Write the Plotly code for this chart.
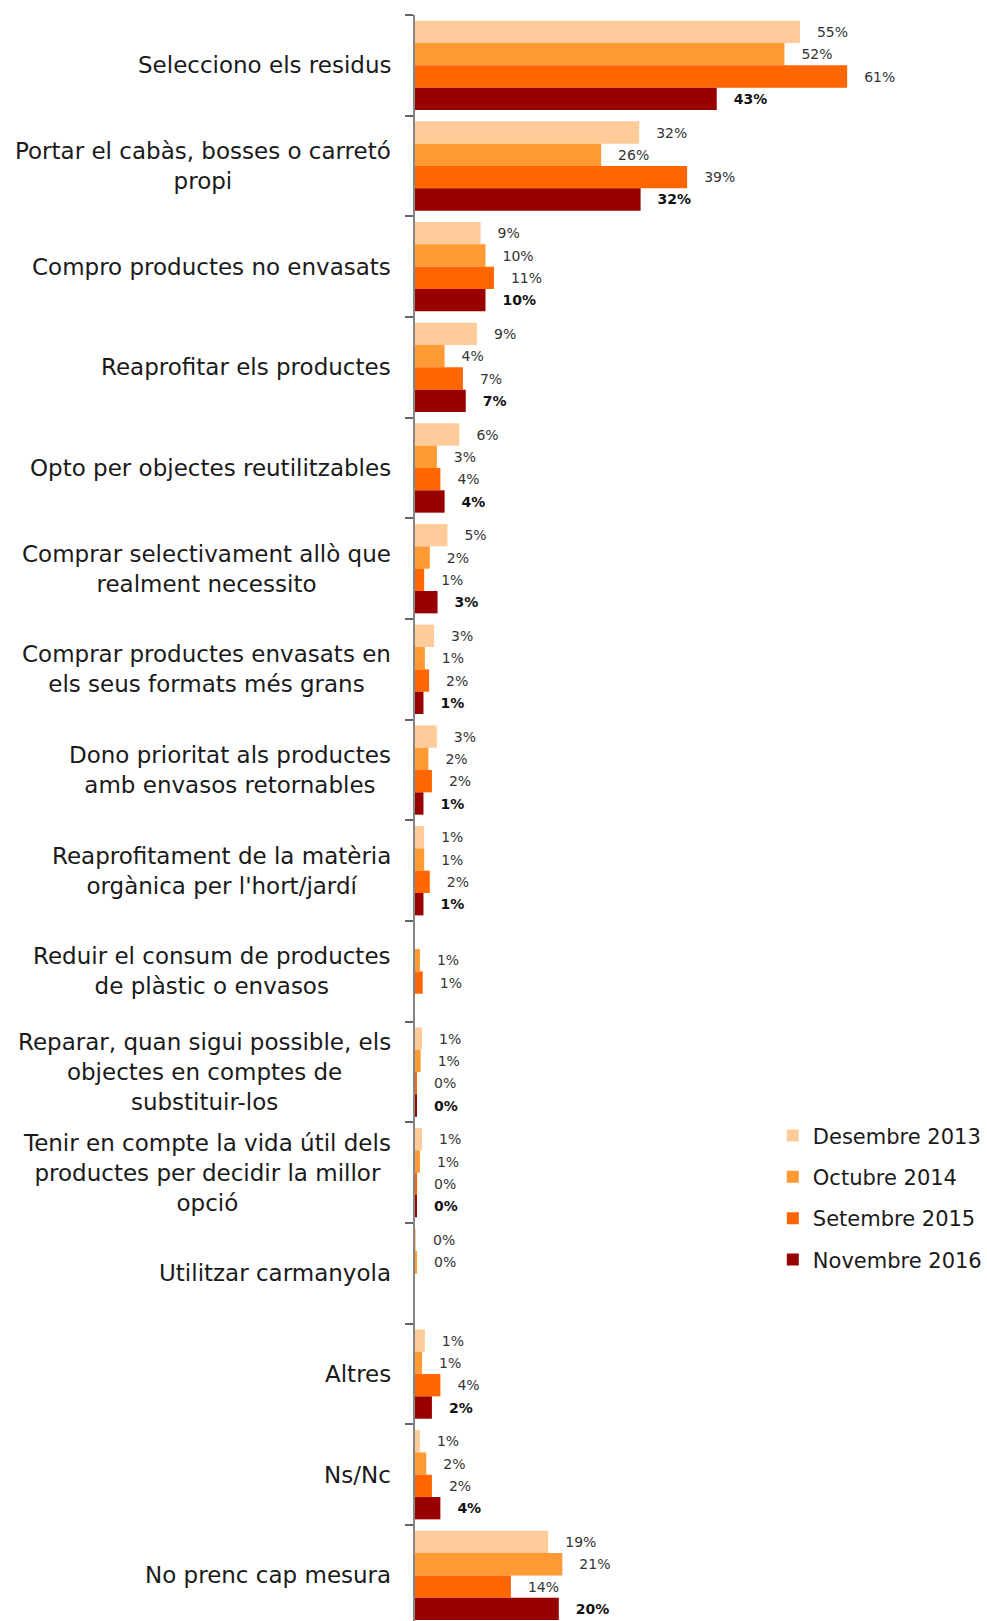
import plotly.graph_objects as go

# Survey answers (one row per measure), labels wrapped as printed
categories = [
    "Selecciono els residus",
    "Portar el cabàs, bosses o carretó\npropi",
    "Compro productes no envasats",
    "Reaprofitar els productes",
    "Opto per objectes reutilitzables",
    "Comprar selectivament allò que\nrealment necessito",
    "Comprar productes envasats en\nels seus formats més grans",
    "Dono prioritat als productes\namb envasos retornables",
    "Reaprofitament de la matèria\norgànica per l'hort/jardí",
    "Reduir el consum de productes\nde plàstic o envasos",
    "Reparar, quan sigui possible, els\nobjectes en comptes de\nsubstituir-los",
    "Tenir en compte la vida útil dels\nproductes per decidir la millor\nopció",
    "Utilitzar carmanyola",
    "Altres",
    "Ns/Nc",
    "No prenc cap mesura",
]

series_names = ["Desembre 2013", "Octubre 2014", "Setembre 2015", "Novembre 2016"]

desembre_2013 = [54.6, 31.8, 9.3, 8.8, 6.3, 4.6, 2.7, 3.1, 1.3, None, 1.0, 1.0, 0.04, 1.4, 0.7, 18.9]
octubre_2014 = [52.4, 26.4, 10.0, 4.2, 3.1, 2.1, 1.4, 1.9, 1.3, 0.7, 0.8, 0.7, 0.2, 1.0, 1.6, 20.9]
setembre_2015 = [61.3, 38.6, 11.2, 6.8, 3.6, 1.3, 2.0, 2.4, 2.1, 1.1, 0.2, 0.3, None, 3.6, 2.4, 13.6]
novembre_2016 = [42.8, 32.0, 10.0, 7.2, 4.2, 3.2, 1.2, 1.2, 1.2, None, 0.2, 0.2, None, 2.4, 3.6, 20.4]

series_values = [desembre_2013, octubre_2014, setembre_2015, novembre_2016]
colors = ["#FFCC99", "#FF9933", "#FF6600", "#990000"]
weights = ["normal", "normal", "normal", "bold"]

FONT = "DejaVu Sans"
keys = [c.replace("\n", " ") for c in categories]


def pct_labels(vals):
    # rounded percentage shown just past the end of each bar; no label where there is no answer
    return ["" if v is None else "\u2002\u2002{:.0f}%".format(v) for v in vals]


fig = go.Figure()
for name, vals, col, wt in zip(series_names, series_values, colors, weights):
    fig.add_trace(go.Bar(
        name=name,
        legendgroup=name,
        y=keys,
        x=vals,
        orientation="h",
        marker=dict(color=col, line=dict(width=0)),
        text=pct_labels(vals),
        texttemplate="%{text}",
        textposition="outside",
        constraintext="none",
        textfont=dict(family=FONT, size=14, color="#111111" if wt == "bold" else "#333333", weight=wt),
        hovertemplate="%{y}: %{x:.1f}%<extra>" + name + "</extra>",
    ))

# Category labels, centred line by line, to the left of the axis
for cat, key in zip(categories, keys):
    fig.add_annotation(
        xref="x", yref="y", x=0, y=key,
        text=cat.replace("\n", "<br>"),
        showarrow=False, xanchor="right", yanchor="middle",
        align="center", xshift=-22,
        font=dict(family=FONT, size=23, color="#1a1a1a"),
    )

px_per_pct = 7.05
plot_w = 987 - 415
fig.update_layout(
    width=987, height=1621,
    margin=dict(l=415, r=0, t=15, b=0, autoexpand=False),
    paper_bgcolor="white", plot_bgcolor="white",
    barmode="group", bargap=0.113, bargroupgap=0,
    showlegend=True,
    legend=dict(
        xref="container", yref="container",
        x=0.783, xanchor="left", y=0.261, yanchor="middle",
        font=dict(family=FONT, size=21, color="#1a1a1a"),
        tracegroupgap=11, traceorder="grouped",
        bgcolor="rgba(0,0,0,0)",
    ),
    xaxis=dict(visible=False, range=[0, plot_w / px_per_pct], fixedrange=True),
    yaxis=dict(
        type="category", categoryorder="array", categoryarray=keys,
        range=[15.453, -0.5],
        tickson="boundaries", ticks="outside", ticklen=8, tickwidth=1.5,
        tickcolor="#666666", showticklabels=False,
        showline=True, linecolor="#868686", linewidth=1.5,
        showgrid=False, zeroline=False,
    ),
    font=dict(family=FONT),
)

fig.write_html("out.html")
